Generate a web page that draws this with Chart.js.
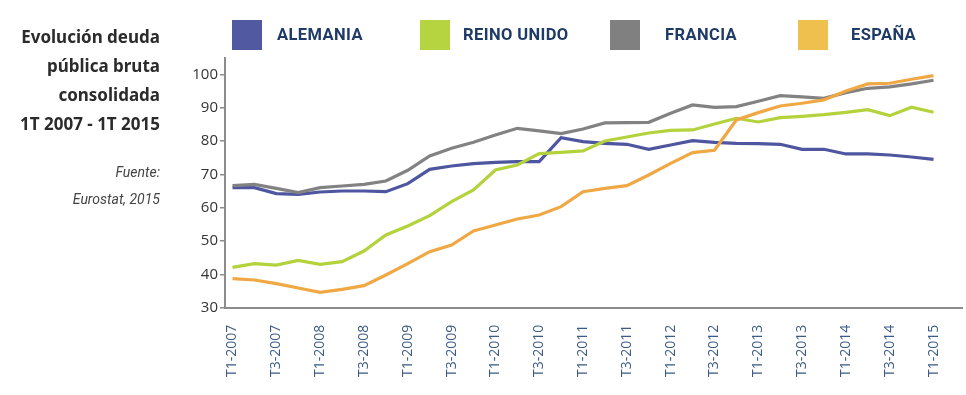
<!DOCTYPE html>
<html>
<head>
<meta charset="utf-8">
<script src="https://cdn.jsdelivr.net/npm/chart.js@4.4.1/dist/chart.umd.min.js"></script>
<style>
    body { margin: 0; background: #fff; }
    #wrap { position: relative; width: 966px; height: 395px; overflow: hidden; }
    #chart { position: absolute; left: 0; top: 0; }
    .title {
        position: absolute; right: 806px; top: 22px; text-align: right;
        font-family: "Noto Sans", sans-serif; font-weight: 700; font-size: 17px;
        line-height: 29px; color: #2b2b2b; white-space: nowrap;
    }
    .source {
        position: absolute; right: 806px; top: 159px; text-align: right;
        font-family: "Liberation Sans Narrow", "Roboto", sans-serif; font-style: italic;
        font-size: 14px; line-height: 27px; color: #444; white-space: nowrap;
    }
    .leg { position: absolute; top: 20px; height: 30px; }
    .leg span.box { position: absolute; left: 0; top: 0; width: 30px; height: 30px; }
    .leg span.txt {
        position: absolute; top: 5px; white-space: nowrap; letter-spacing: 0.4px;
        font-family: "Roboto", sans-serif; font-weight: 700; font-size: 16.5px; color: #1e3a66;
    }
</style>
</head>
<body>
<div id="wrap">
    <canvas id="chart" width="966" height="395"></canvas>
    <div class="title">Evolución deuda<br>pública bruta<br>consolidada<br>1T 2007 - 1T 2015</div>
    <div class="source">Fuente:<br>Eurostat, 2015</div>
    <div id="legend"></div>
</div>
<script>
// trimestres T1-2007 .. T1-2015
const quarters = [
    "T1-2007", "T2-2007", "T3-2007", "T4-2007",
    "T1-2008", "T2-2008", "T3-2008", "T4-2008",
    "T1-2009", "T2-2009", "T3-2009", "T4-2009",
    "T1-2010", "T2-2010", "T3-2010", "T4-2010",
    "T1-2011", "T2-2011", "T3-2011", "T4-2011",
    "T1-2012", "T2-2012", "T3-2012", "T4-2012",
    "T1-2013", "T2-2013", "T3-2013", "T4-2013",
    "T1-2014", "T2-2014", "T3-2014", "T4-2014",
    "T1-2015"
];

const alemania = [66.0, 66.0, 64.2, 64.0, 64.7, 65.0, 65.0, 64.8, 67.2, 71.5, 72.5, 73.2, 73.6, 73.8, 73.8, 81.0,
                  79.8, 79.3, 79.0, 77.5, 78.8, 80.1, 79.6, 79.3, 79.2, 79.0, 77.5, 77.5, 76.1, 76.1, 75.8, 75.2, 74.5];
const reinoUnido = [42.1, 43.2, 42.8, 44.2, 43.0, 43.8, 47.0, 51.8, 54.5, 57.6, 61.8, 65.3, 71.3, 72.8, 76.2, 76.6,
                    77.0, 80.0, 81.2, 82.4, 83.2, 83.3, 85.1, 86.8, 85.7, 87.0, 87.4, 87.9, 88.6, 89.4, 87.6, 90.1, 88.6];
const francia = [66.6, 67.0, 65.8, 64.5, 66.0, 66.5, 67.0, 68.0, 71.2, 75.5, 77.8, 79.6, 81.8, 83.8, 83.0, 82.2,
                 83.6, 85.4, 85.5, 85.6, 88.3, 90.8, 90.1, 90.3, 91.9, 93.6, 93.2, 92.8, 94.5, 95.8, 96.2, 97.1, 98.2];
const espana = [38.7, 38.3, 37.2, 35.9, 34.6, 35.5, 36.6, 39.8, 43.2, 46.8, 48.8, 53.0, 54.8, 56.6, 57.8, 60.3,
                64.8, 65.8, 66.6, 69.8, 73.3, 76.5, 77.2, 86.3, 88.5, 90.5, 91.3, 92.3, 95.0, 97.1, 97.3, 98.5, 99.6];

const yTicks = [30, 40, 50, 60, 70, 80, 90, 100];

const series = [
    { label: "ALEMANIA",    data: alemania,   color: "#4e56a0", box: "#5159a0", order: 4, legX: 232, txtX: 45 },
    { label: "REINO UNIDO", data: reinoUnido, color: "#b3d23c", box: "#b5d440", order: 3, legX: 420, txtX: 43 },
    { label: "FRANCIA",     data: francia,    color: "#828282", box: "#808080", order: 2, legX: 610, txtX: 55 },
    { label: "ESPAÑA",      data: espana,     color: "#f0a844", box: "#f0c04f", order: 1, legX: 798, txtX: 53 }
];

// leyenda
const legend = document.getElementById("legend");
series.forEach(s => {
    const d = document.createElement("div");
    d.className = "leg";
    d.style.left = s.legX + "px";
    d.innerHTML = `<span class="box" style="background:${s.box}"></span><span class="txt" style="left:${s.txtX}px">${s.label}</span>`;
    legend.appendChild(d);
});

new Chart(document.getElementById("chart"), {
    type: "line",
    data: {
        datasets: series.map(s => ({
            label: s.label,
            data: s.data.map((v, i) => ({ x: i, y: v })),
            borderColor: s.color,
            backgroundColor: s.color,
            borderWidth: 3.2,
            pointRadius: 0,
            tension: 0,
            order: s.order
        }))
    },
    options: {
        responsive: false,
        animation: false,
        layout: { padding: { left: 180, top: 57.6, right: 4, bottom: 0 } },
        plugins: {
            legend: { display: false },
            tooltip: { enabled: false }
        },
        scales: {
            x: {
                type: "linear",
                min: -0.343,
                max: 33.3,
                afterFit: (scale) => { scale.height = 87.3; },
                afterBuildTicks: (scale) => {
                    scale.ticks = quarters.map((q, i) => ({ value: i })).filter(t => t.value % 2 === 0);
                },
                grid: { display: false },
                border: { display: true, color: "#8c8c8c", width: 2 },
                ticks: {
                    autoSkip: false,
                    minRotation: 90,
                    maxRotation: 90,
                    padding: 9,
                    color: "#3b5a84",
                    font: { family: "Open Sans", size: 14 },
                    callback: (v) => quarters[v]
                }
            },
            y: {
                min: 30,
                max: 105,
                afterFit: (scale) => { scale.width = 45; },
                afterBuildTicks: (scale) => {
                    scale.ticks = yTicks.map(v => ({ value: v }));
                },
                grid: { display: true, drawOnChartArea: false, drawTicks: true, tickLength: 5, color: "#8c8c8c", lineWidth: 1.5 },
                border: { display: true, color: "#8c8c8c", width: 2 },
                ticks: {
                    padding: 2,
                    color: "#333",
                    font: { family: "Open Sans", size: 15 }
                }
            }
        }
    }
});
</script>
</body>
</html>
